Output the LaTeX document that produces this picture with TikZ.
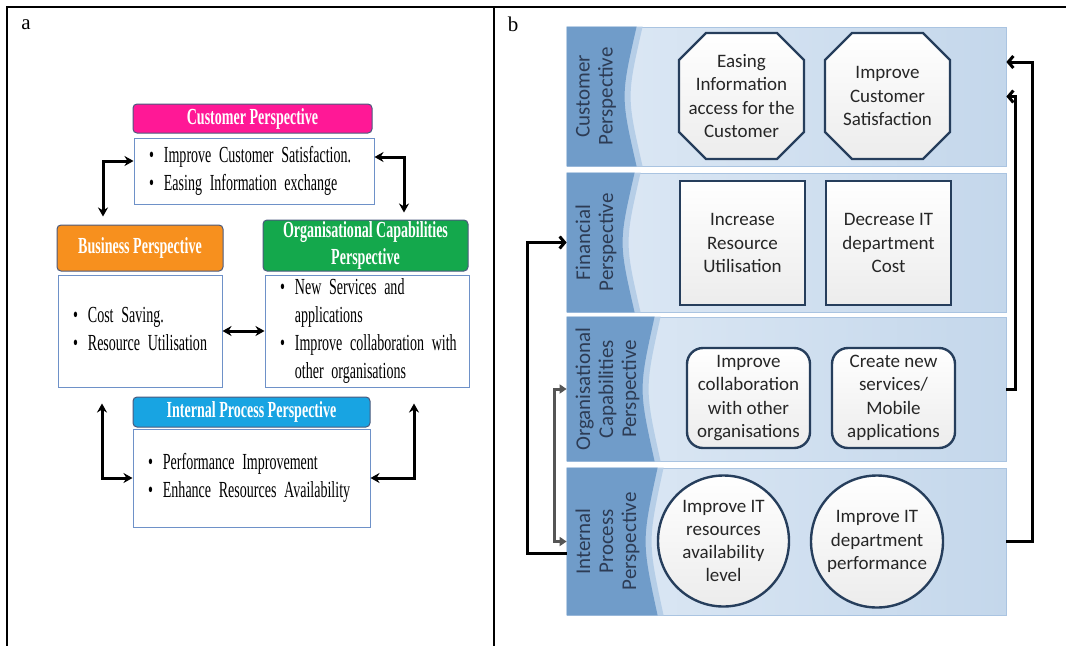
\documentclass[tikz,border=0pt]{standalone}
\usepackage{fontspec}
\setmainfont{Liberation Serif}
\newfontfamily\condserif[FakeStretch=0.61]{Liberation Serif}
\newfontfamily\calib{Carlito}
\usetikzlibrary{arrows.meta}

\definecolor{custpink}{RGB}{255,24,150}
\definecolor{busorange}{RGB}{247,144,30}
\definecolor{orggreen}{RGB}{20,168,76}
\definecolor{intblue}{RGB}{24,164,226}
\definecolor{headedge}{RGB}{75,90,125}
\definecolor{boxblue}{RGB}{110,145,200}
\definecolor{stripblue}{RGB}{112,156,201}
\definecolor{bandblue}{RGB}{182,206,231}
\definecolor{rowlight}{RGB}{222,233,245}
\definecolor{rowdark}{RGB}{196,215,235}
\definecolor{rowedge}{RGB}{170,196,225}
\definecolor{goaledge}{RGB}{38,62,92}
\definecolor{goalgray}{RGB}{236,236,236}
\definecolor{labeltext}{RGB}{45,60,85}
\definecolor{loopgray}{RGB}{85,85,85}

\begin{document}
\begin{tikzpicture}[x=1pt,y=-1pt,
        headbox/.style={draw=headedge, line width=1pt, rounded corners=4pt, text=white,
            align=center, inner sep=0pt, font=\condserif\bfseries\fontsize{23}{27}\selectfont},
        bodybox/.style={draw=boxblue, line width=1pt, fill=white, align=left,
            inner xsep=15pt, inner ysep=0pt, font=\condserif\fontsize{23}{28}\selectfont},
        link/.style={line width=3pt, <->, >={Stealth[length=9pt,width=10pt]}},
        rowband/.style={draw=rowedge, line width=0.8pt, left color=rowlight, right color=rowdark,
            minimum width=439pt, inner sep=0pt},
        rowlabel/.style={rotate=90, align=center, text=labeltext, inner sep=0pt,
            font=\calib\fontsize{21}{23}\selectfont},
        goal/.style={draw=goaledge, line width=2.4pt, top color=white, bottom color=goalgray},
        goaltext/.style={align=center, text=black!85, inner sep=0pt,
            font=\calib\fontsize{19}{23.3}\selectfont},
        feed/.style={line width=3pt, ->, >={Straight Barb[length=5pt,width=12pt]}},
        loop/.style={line width=3pt, color=loopgray, <->, >={Triangle[length=7pt,width=9pt]}}
    ]
    \useasboundingbox (0,0) rectangle (1066,646);
    \fill[white] (0,0) rectangle (1066,646);

    % table frame
    \draw[line width=2pt] (6,7) -- (1066,7);
    \draw[line width=2pt] (7,7) -- (7,646);
    \draw[line width=2pt] (494,7) -- (494,646);
    \node[font=\fontsize{21}{25}\selectfont] (taga) at (26,25) {a};
    \node[font=\fontsize{21}{25}\selectfont] (tagb) at (513,24) {b};

    % panel a
    \node[headbox, fill=custpink, minimum width=239pt, minimum height=29pt] (custhead) at (252.5,118.5) {Customer Perspective};
    \node[bodybox, text width=210pt, minimum height=66pt] (custbody) at (254,171)
        {\noindent\begin{tabular}{@{}l@{\hspace{10pt}}l@{}}
            \textbullet & Improve Customer Satisfaction.\\
            \textbullet & Easing Information exchange
        \end{tabular}};
    \node[headbox, fill=busorange, minimum width=166pt, minimum height=46pt] (bushead) at (140,248) {Business Perspective};
    \node[bodybox, text width=134pt, minimum height=112pt] (busbody) at (140,331)
        {\noindent\begin{tabular}{@{}l@{\hspace{10pt}}l@{}}
            \textbullet & Cost Saving.\\
            \textbullet & Resource Utilisation
        \end{tabular}};
    \node[headbox, fill=orggreen, minimum width=205pt, minimum height=51pt] (orghead) at (365.5,245.5) {Organisational Capabilities\\Perspective};
    \node[bodybox, text width=174pt, minimum height=112pt] (orgbody) at (367,331)
        {\noindent\begin{tabular}{@{}l@{\hspace{10pt}}l@{}}
            \textbullet & New Services and\\
                        & applications\\
            \textbullet & Improve collaboration with\\
                        & other organisations
        \end{tabular}};
    \node[headbox, fill=intblue, minimum width=237pt, minimum height=30pt] (inthead) at (251.5,412) {Internal Process Perspective};
    \node[bodybox, text width=207pt, minimum height=98pt] (intbody) at (251.5,478)
        {\noindent\begin{tabular}{@{}l@{\hspace{10pt}}l@{}}
            \textbullet & Performance Improvement\\
            \textbullet & Enhance Resources Availability
        \end{tabular}};

    \draw[link] ([xshift=-37pt,yshift=8pt]bushead.north) |- ([yshift=10pt]custbody.west);
    \draw[link] ([yshift=14pt]custbody.east) -| ([xshift=38.5pt,yshift=7pt]orghead.north);
    \draw[link] (busbody.east) -- (orgbody.west);
    \draw[link] ([xshift=-38pt,yshift=-16pt]busbody.south) |- (intbody.west);
    \draw[link] ([xshift=47pt,yshift=-16pt]orgbody.south) |- (intbody.east);

    % panel b
    \node[rowband, minimum height=139pt] (custrow) at (786.5,96.5) {};
    \node[rowband, minimum height=139pt] (finrow) at (786.5,242.5) {};
    \node[rowband, minimum height=144pt] (orgrow) at (786.5,389) {};
    \node[rowband, minimum height=147pt] (introw) at (786.5,541.5) {};

    \foreach \r/\w in {custrow/70pt, finrow/68pt, orgrow/88pt, introw/91pt} {
        \fill[bandblue] (\r.north west) -- ([xshift=\w+6pt]\r.north west)
            .. controls ([xshift=\w-10pt]\r.west) .. ([xshift=\w+6pt]\r.south west) -- (\r.south west) -- cycle;
        \fill[stripblue] (\r.north west) -- ([xshift=\w]\r.north west)
            .. controls ([xshift=\w-16pt]\r.west) .. ([xshift=\w]\r.south west) -- (\r.south west) -- cycle;
    }

    \node[rowlabel] (custlab) at ([xshift=29.5pt]custrow.west) {Customer\\Perspective};
    \node[rowlabel] (finlab) at ([xshift=29.5pt]finrow.west) {Financial\\Perspective};
    \node[rowlabel] (orglab) at ([xshift=41pt]orgrow.west) {Organisational\\Capabilities\\Perspective};
    \node[rowlabel] (intlab) at ([xshift=41pt]introw.west) {Internal\\Process\\Perspective};

    \coordinate (easing) at (741.5,96);
    \coordinate (satisf) at (887.5,96);
    \foreach \c in {easing,satisf}
        \path[goal] ([shift={(-35.5,-63)}]\c) -- ([shift={(35.5,-63)}]\c) -- ([shift={(62.5,-36)}]\c)
            -- ([shift={(62.5,36)}]\c) -- ([shift={(35.5,63)}]\c) -- ([shift={(-35.5,63)}]\c)
            -- ([shift={(-62.5,36)}]\c) -- ([shift={(-62.5,-36)}]\c) -- cycle;
    \node[goaltext] (easingtxt) at (easing) {Easing\\Information\\access for the\\Customer};
    \node[goaltext] (satisftxt) at (satisf) {Improve\\Customer\\Satisfaction};

    \node[goal, goaltext, minimum width=125pt, minimum height=124pt] (resutil) at (742.5,243) {Increase\\Resource\\Utilisation};
    \node[goal, goaltext, minimum width=125pt, minimum height=124pt] (itcost) at (888.5,243) {Decrease IT\\department\\Cost};
    \node[goal, goaltext, rounded corners=16pt, minimum width=123pt, minimum height=100pt] (collab) at (748.5,398) {Improve\\collaboration\\with other\\organisations};
    \node[goal, goaltext, rounded corners=16pt, minimum width=123pt, minimum height=100pt] (newserv) at (893.5,398) {Create new\\services/\\Mobile\\applications};
    \node[goal, goaltext, circle, minimum size=131pt] (itavail) at (723.5,541) {Improve IT\\resources\\availability\\level};
    \node[goal, goaltext, circle, minimum size=132pt] (itperf) at (877,541.5) {Improve IT\\department\\performance};

    \draw[feed] (introw.east) -| ([xshift=26pt,yshift=34.5pt]custrow.east) -- ([yshift=34.5pt]custrow.east);
    \draw[feed] (orgrow.east) -| ([xshift=9pt]custrow.east) -- (custrow.east);
    \draw[feed] ([yshift=-11.5pt]introw.west) -- ++(-39,0) |- (finrow.west);
    \draw[loop] (orgrow.west) -- ++(-12,0) |- (introw.west);
\end{tikzpicture}
\end{document}
